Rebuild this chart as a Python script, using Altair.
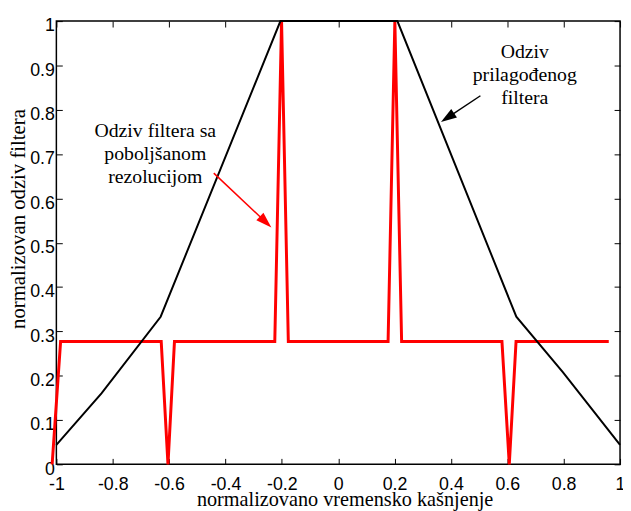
import altair as alt
import pandas as pd

# ---- data ----
# matched filter response (black)
black_x = [-1.0, -0.84, -0.63, -0.205, 0.21, 0.632, 0.797, 1.0]
black_y = [0.044, 0.16, 0.333, 1.0, 1.0, 0.333, 0.208, 0.044]

# improved-resolution filter response (red)
red_x = [-1.015, -0.985, -0.628, -0.604, -0.581, -0.225, -0.201, -0.177,
         0.177, 0.201, 0.225, 0.581, 0.607, 0.631, 0.96]
red_y = [0.0, 0.277, 0.277, 0.0, 0.277, 0.277, 1.0, 0.277,
         0.277, 1.0, 0.277, 0.277, 0.0, 0.277, 0.277]

x_ticks = [-1, -0.8, -0.6, -0.4, -0.2, 0, 0.2, 0.4, 0.6, 0.8, 1]
y_ticks = [0, 0.1, 0.2, 0.3, 0.4, 0.5, 0.6, 0.7, 0.8, 0.9, 1]

# annotations (data coordinates)
red_label = "Odziv filtera sa\npoboljšanom\nrezolucijom"
red_label_pos = (-0.649, 0.739)
red_arrow = (-0.4415, 0.657, -0.2575, 0.5468)   # x, y, x2, y2
black_label = "Odziv\nprilagođenog\nfiltera"
black_label_pos = (0.662, 0.917)
black_arrow = (0.5046, 0.8316, 0.3879, 0.782)

x_title = "normalizovano vremensko kašnjenje"
y_title = "normalizovan odziv filtera"

# ---- tables ----
black_df = pd.DataFrame({"x": black_x, "y": black_y})
red_df = pd.DataFrame({"x": red_x, "y": red_y})

SANS = "Liberation Sans"
SERIF = "Liberation Serif"

xscale = alt.Scale(domain=[-1, 1], nice=False, zero=False)
yscale = alt.Scale(domain=[0, 1], nice=False, zero=False)

x_main = alt.Axis(values=x_ticks, orient="bottom", offset=-6, tickSize=6,
                  tickColor="black", tickWidth=1, domain=False, grid=False,
                  labelExpr="'' + datum.value", labelFont=SANS, labelFontSize=18,
                  labelColor="black", labelPadding=25, labelBaseline="alphabetic",
                  labelFlush=False, labelOverlap=False,
                  title=x_title, titleFont=SERIF, titleFontSize=20.5,
                  titleFontWeight="normal", titleColor="black",
                  titleX=292, titleY=48, titleBaseline="alphabetic",
                  titleAlign="center")
y_main = alt.Axis(values=y_ticks, orient="left", offset=-6, tickSize=6,
                  tickColor="black", tickWidth=1, domain=False, grid=False,
                  labelExpr="'' + datum.value", labelFont=SANS, labelFontSize=18,
                  labelColor="black", labelPadding=2, labelOffset=5,
                  labelFlush=False, labelOverlap=False,
                  title=y_title, titleFont=SERIF, titleFontSize=21,
                  titleFontWeight="normal", titleColor="black",
                  titleAngle=270, titleX=-38, titleY=200,
                  titleBaseline="alphabetic", titleAlign="center")
x_top = alt.Axis(values=x_ticks, orient="top", offset=-6, tickSize=6,
                 tickColor="black", tickWidth=1, domain=False, grid=False,
                 labels=False, title=None)
y_right = alt.Axis(values=y_ticks, orient="right", offset=-6, tickSize=6,
                   tickColor="black", tickWidth=1, domain=False, grid=False,
                   labels=False, title=None)

red_line = alt.Chart(red_df).mark_line(color="#ff0000", strokeWidth=3).encode(
    x=alt.X("x:Q", scale=xscale, axis=x_top),
    y=alt.Y("y:Q", scale=yscale, axis=y_right),
    order="index:Q",
).transform_window(index="row_number()")

black_line = alt.Chart(black_df).mark_line(color="black", strokeWidth=2).encode(
    x=alt.X("x:Q", scale=xscale, axis=x_main),
    y=alt.Y("y:Q", scale=yscale, axis=y_main),
    order="index:Q",
).transform_window(index="row_number()")

ann_text = pd.DataFrame({
    "x": [red_label_pos[0], black_label_pos[0]],
    "y": [red_label_pos[1], black_label_pos[1]],
    "t": [red_label, black_label],
})
texts = alt.Chart(ann_text).mark_text(
    lineBreak="\n", align="center", baseline="alphabetic", font=SERIF,
    fontSize=20, lineHeight=23.3, color="black").encode(
    x=alt.X("x:Q", scale=xscale, axis=None),
    y=alt.Y("y:Q", scale=yscale, axis=None),
    text="t:N",
)

arrows_df = pd.DataFrame({
    "x": [red_arrow[0], black_arrow[0]],
    "y": [red_arrow[1], black_arrow[1]],
    "x2": [red_arrow[2], black_arrow[2]],
    "y2": [red_arrow[3], black_arrow[3]],
    "c": ["red", "black"],
})
arrow_lines = alt.Chart(arrows_df).mark_rule(strokeWidth=1.5).encode(
    x=alt.X("x:Q", scale=xscale, axis=None),
    y=alt.Y("y:Q", scale=yscale, axis=None),
    x2="x2:Q", y2="y2:Q",
    color=alt.Color("c:N", scale=None),
)

HEAD = "M0,-1L0.65,1L-0.65,1Z"
red_head = alt.Chart(pd.DataFrame({"x": [red_arrow[2]], "y": [red_arrow[3]]})).mark_point(
    shape=HEAD, size=256, filled=True, color="#ff0000", opacity=1, strokeWidth=0,
    angle=133.3).encode(
    x=alt.X("x:Q", scale=xscale, axis=None),
    y=alt.Y("y:Q", scale=yscale, axis=None),
)
black_head = alt.Chart(pd.DataFrame({"x": [black_arrow[2]], "y": [black_arrow[3]]})).mark_point(
    shape=HEAD, size=256, filled=True, color="black", opacity=1, strokeWidth=0,
    angle=236.3).encode(
    x=alt.X("x:Q", scale=xscale, axis=None),
    y=alt.Y("y:Q", scale=yscale, axis=None),
)

chart = alt.layer(
    red_line, black_line, arrow_lines, red_head, black_head, texts
).resolve_axis(x="independent", y="independent").properties(
    width=571, height=449,
    padding={"left": 49, "top": 10, "right": 3, "bottom": 44},
    autosize=alt.AutoSizeParams(type="none"),
    background="white",
).configure_view(stroke="black", strokeWidth=1.5)

chart.save("out.html", embed_options={"renderer": "svg", "actions": False})
